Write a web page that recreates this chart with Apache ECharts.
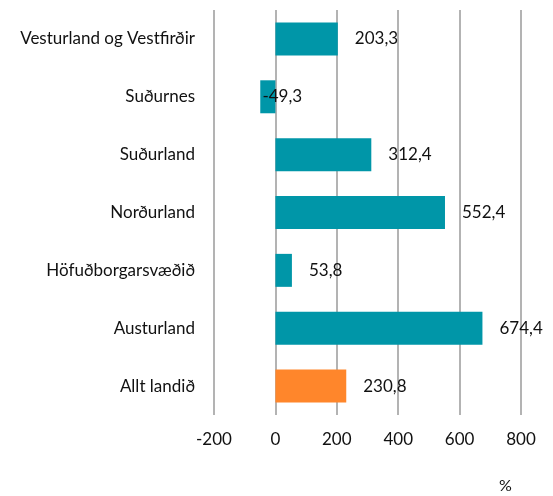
<!DOCTYPE html>
<html>
<head>
<meta charset="utf-8">
<script src="https://cdn.jsdelivr.net/npm/echarts@6/dist/echarts.min.js"></script>
<style>
html, body { margin: 0; padding: 0; background: #fff; }
#chart { width: 553px; height: 496px; }
</style>
</head>
<body>
<div id="chart"></div>
<script>
var regions = ['Vesturland og Vestfirðir', 'Suðurnes', 'Suðurland', 'Norðurland', 'Höfuðborgarsvæðið', 'Austurland', 'Allt landið'];
var values = [203.3, -49.3, 312.4, 552.4, 53.8, 674.4, 230.8];
var totalName = 'Allt landið';

var font = 'Lato, "Noto Sans", sans-serif';

var myChart = echarts.init(document.getElementById('chart'));

var barData = values.map(function (v, i) {
    return {
        value: v,
        itemStyle: { color: regions[i] === totalName ? '#FF862B' : '#0096A8' },
        label: v < 0 ? { distance: 2, offset: [-15, 0] } : { distance: 17 }
    };
});

var option = {
    animation: false,
    grid: { left: 214, right: 32, top: 10, bottom: 81 },
    xAxis: {
        type: 'value',
        min: -200,
        max: 800,
        interval: 200,
        axisLine: { show: false },
        axisTick: { show: false },
        splitLine: { lineStyle: { color: '#9a9a9a', width: 1.5 } },
        axisLabel: {
            margin: 16,
            color: '#111',
            fontSize: 17,
            fontFamily: font
        }
    },
    yAxis: {
        type: 'category',
        data: regions,
        inverse: true,
        axisLine: { show: false },
        axisTick: { show: false },
        axisLabel: {
            margin: 19,
            color: '#111',
            fontSize: 17,
            fontFamily: font
        }
    },
    series: [{
        type: 'bar',
        data: barData,
        barCategoryGap: '43%',
        label: {
            show: true,
            position: 'right',
            color: '#111',
            fontSize: 17,
            fontFamily: font,
            formatter: function (p) {
                return p.value.toFixed(1).replace('.', ',');
            }
        }
    }],
    graphic: [{
        type: 'text',
        left: 499,
        top: 478,
        style: { text: '%', fontSize: 16, fontFamily: font, fill: '#111' }
    }]
};
myChart.setOption(option);
</script>
</body>
</html>
